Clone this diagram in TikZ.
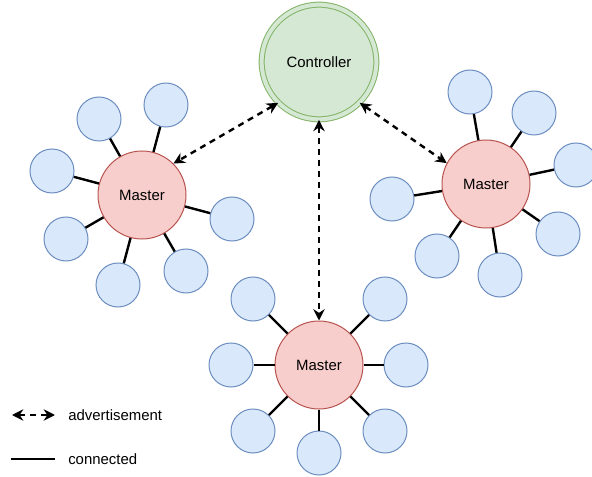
\documentclass[tikz,border=0pt]{standalone}
\usepackage{fontspec}
\setmainfont{Liberation Sans}
\usetikzlibrary{arrows.meta,positioning}
\definecolor{ctrlfill}{HTML}{D5E8D4}
\definecolor{ctrlline}{HTML}{82B366}
\definecolor{mastfill}{HTML}{F8CECC}
\definecolor{mastline}{HTML}{B85450}
\definecolor{slavefill}{HTML}{DAE8FC}
\definecolor{slaveline}{HTML}{6C8EBF}

\begin{document}
\begin{tikzpicture}[x=0.75pt,y=-0.75pt,
    every node/.style={font=\fontsize{11.2}{13}\selectfont},
    ctrl/.style={circle,draw=ctrlline,line width=0.75pt,double=ctrlfill,double distance=3pt,
        fill=ctrlfill,minimum size=86pt,inner sep=0pt},
    master/.style={circle,draw=mastline,line width=0.75pt,fill=mastfill,minimum size=66pt,inner sep=0pt},
    slave/.style={circle,draw=slaveline,line width=0.75pt,fill=slavefill,minimum size=33pt,inner sep=0pt},
    link/.style={line width=1.8pt},
    advert/.style={line width=1.8pt,dash pattern=on 4.5pt off 3.75pt,
        {Stealth[length=8.5pt,width=8.5pt]}-{Stealth[length=8.5pt,width=8.5pt]}}]
\useasboundingbox (0,0) rectangle (592,477);

% controller and the three masters
\node[ctrl] (ctrl) at (319,62) {Controller};
\node[master] (m1) at (142,195) {Master};
\node[master] (m2) at (486,184) {Master};
\node[master] (m3) at (319,365) {Master};

% nodes around the left master
\node[slave] (s11) at (99,119) {};
\node[slave] (s12) at (166,105) {};
\node[slave] (s13) at (52,171) {};
\node[slave] (s14) at (232,219) {};
\node[slave] (s15) at (66,239) {};
\node[slave] (s16) at (118,285) {};
\node[slave] (s17) at (186,271) {};

% nodes around the right master
\node[slave] (s21) at (470,92) {};
\node[slave] (s22) at (534,113) {};
\node[slave] (s23) at (576,165) {};
\node[slave] (s24) at (392,199) {};
\node[slave] (s25) at (558,234) {};
\node[slave] (s26) at (437,256) {};
\node[slave] (s27) at (500,275) {};

% nodes around the bottom master
\node[slave] (s31) at (253,299) {};
\node[slave] (s32) at (385,299) {};
\node[slave] (s33) at (231,365) {};
\node[slave] (s34) at (406,365) {};
\node[slave] (s35) at (253,431) {};
\node[slave] (s36) at (385,431) {};
\node[slave] (s37) at (319,453) {};

\draw[link] (m1) -- (s11); \draw[link] (m1) -- (s12); \draw[link] (m1) -- (s13);
\draw[link] (m1) -- (s14); \draw[link] (m1) -- (s15); \draw[link] (m1) -- (s16);
\draw[link] (m1) -- (s17);
\draw[link] (m2) -- (s21); \draw[link] (m2) -- (s22); \draw[link] (m2) -- (s23);
\draw[link] (m2) -- (s24); \draw[link] (m2) -- (s25); \draw[link] (m2) -- (s26);
\draw[link] (m2) -- (s27);
\draw[link] (m3) -- (s31); \draw[link] (m3) -- (s32); \draw[link] (m3) -- (s33);
\draw[link] (m3) -- (s34); \draw[link] (m3) -- (s35); \draw[link] (m3) -- (s36);
\draw[link] (m3) -- (s37);

% advertisements from the controller
\draw[advert] (ctrl.-135) -- (m1.45);
\draw[advert] (ctrl.-45) -- (m2.152);
\draw[advert] (ctrl.south) -- (m3.north);

% legend
\coordinate (la1) at (12,415); \coordinate (la2) at (55,415);
\coordinate (lc1) at (11,459); \coordinate (lc2) at (55,459);
\draw[advert] (la1) -- (la2);
\draw[link] (lc1) -- (lc2);
\node[anchor=west,inner sep=0pt] (ladv) at (68,415) {advertisement};
\node[anchor=west,inner sep=0pt] (lcon) at (68,459) {connected};
\end{tikzpicture}
\end{document}
